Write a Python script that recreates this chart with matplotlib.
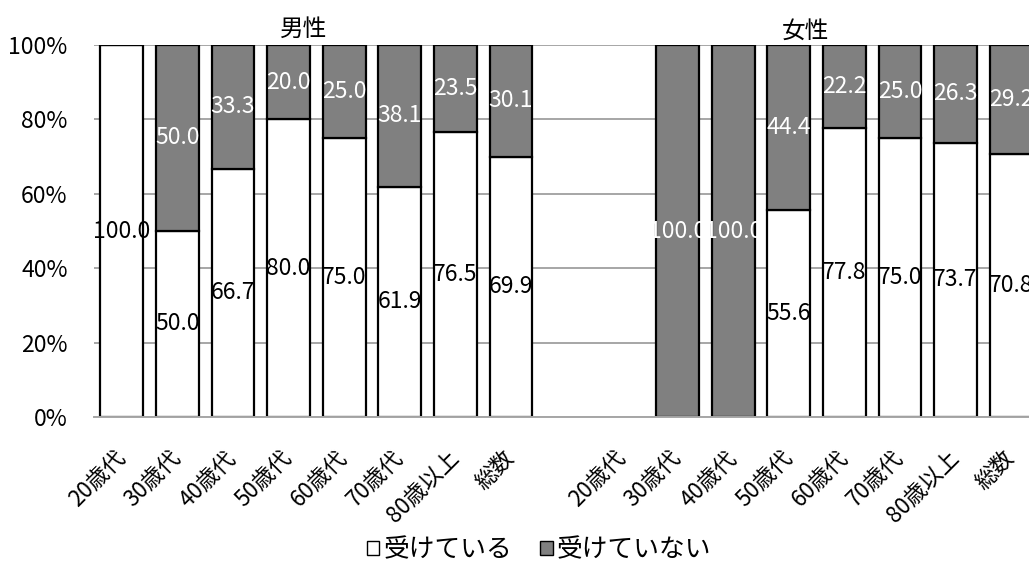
import numpy as np
import matplotlib
matplotlib.use("Agg")
import matplotlib.pyplot as plt
from matplotlib.patches import Patch

plt.rcParams['font.family'] = ['Noto Sans CJK JP', 'DejaVu Sans']

ages = ["20歳代", "30歳代", "40歳代", "50歳代", "60歳代", "70歳代", "80歳以上", "総数"]
male_yes = [100.0, 50.0, 66.7, 80.0, 75.0, 61.9, 76.5, 69.9]
male_no = [0.0, 50.0, 33.3, 20.0, 25.0, 38.1, 23.5, 30.1]
female_yes = [np.nan, 0.0, 0.0, 55.6, 77.8, 75.0, 73.7, 70.8]
female_no = [np.nan, 100.0, 100.0, 44.4, 22.2, 25.0, 26.3, 29.2]
group_titles = ["男性", "女性"]
series_names = ["受けている", "受けていない"]

labels = ages + [""] + ages
yes = np.array(male_yes + [np.nan] + female_yes, dtype=float)
no = np.array(male_no + [np.nan] + female_no, dtype=float)

W, H = 1029, 567
fig = plt.figure(figsize=(W / 100, H / 100), dpi=100)
ax = fig.add_axes([94 / W, 150 / H, 945 / W, 372 / H])

x = np.arange(len(labels))
valid = ~np.isnan(yes)
gray = "#808080"
bw = 0.77
ax.bar(x[valid], yes[valid], width=bw, color="white", edgecolor="black", linewidth=1.6, zorder=2)
ax.bar(x[valid], no[valid], bottom=yes[valid], width=bw, color=gray, edgecolor="black", linewidth=1.6, zorder=2)

fs = 16.5
for i in x[valid]:
    if yes[i] > 0:
        ax.text(i, yes[i] / 2, f"{yes[i]:.1f}", ha="center", va="center", fontsize=fs, color="black", zorder=3)
    if no[i] > 0:
        ax.text(i, yes[i] + no[i] / 2, f"{no[i]:.1f}", ha="center", va="center", fontsize=fs, color="white", zorder=3)

ax.set_xlim(-0.5, len(labels) - 0.5)
ax.set_ylim(0, 100)
ax.set_yticks([0, 20, 40, 60, 80, 100])
ax.set_yticklabels([f"{v}%" for v in [0, 20, 40, 60, 80, 100]], fontsize=fs)
ax.set_xticks(x)
ax.set_xticklabels(labels, rotation=45, ha="right", va="center", rotation_mode="anchor", fontsize=16)
ax.tick_params(axis="both", length=0)
ax.tick_params(axis="x", pad=27)
ax.tick_params(axis="y", pad=19)
ax.grid(axis="y", color="#a6a6a6", linewidth=1.4, zorder=0)
ax.set_axisbelow(True)
for s in ["left", "right", "top"]:
    ax.spines[s].set_visible(False)
ax.spines["bottom"].set_color("#a6a6a6")
ax.spines["bottom"].set_linewidth(1.4)

fig.text(304 / W, 1 - 29 / H, group_titles[0], ha="center", va="center", fontsize=17)
fig.text(805 / W, 1 - 31 / H, group_titles[1], ha="center", va="center", fontsize=17)

handles = [Patch(facecolor="white", edgecolor="black", linewidth=1.0),
           Patch(facecolor=gray, edgecolor="black", linewidth=1.0)]
fig.legend(handles, series_names, loc="center", bbox_to_anchor=(539 / W, 1 - 550 / H), ncol=2,
           frameon=False, fontsize=18.5, handlelength=0.5, handleheight=0.5, handletextpad=0.15,
           columnspacing=1.1)

fig.savefig("out.png", dpi=100)
